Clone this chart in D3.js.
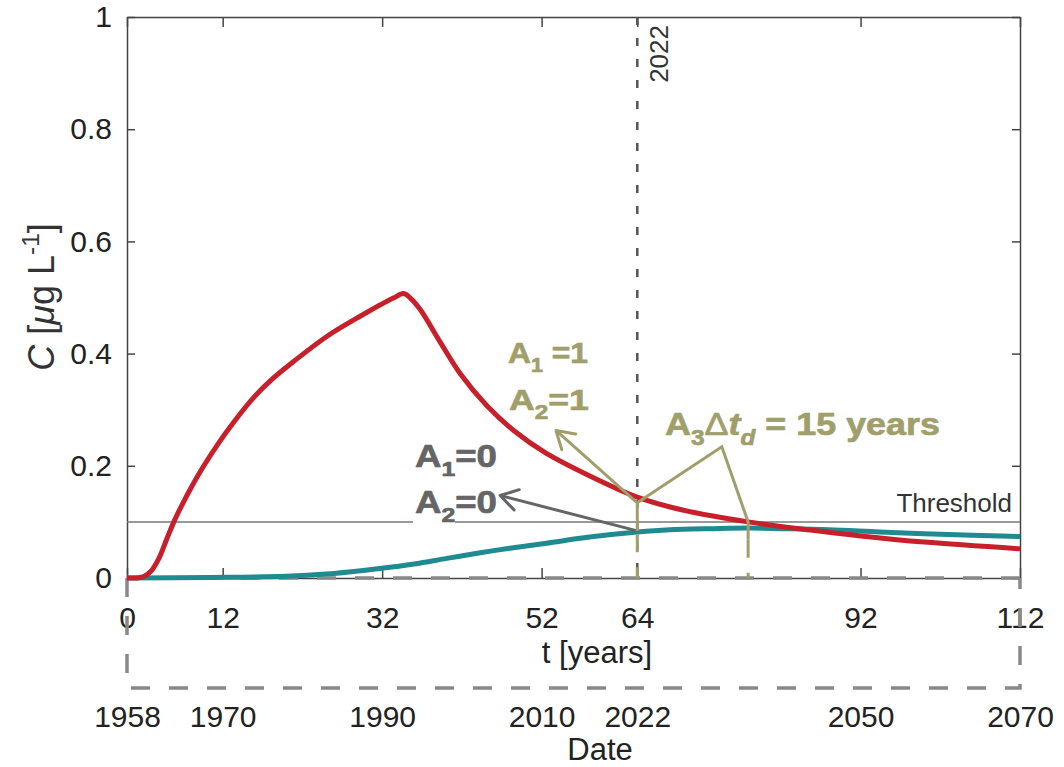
<!DOCTYPE html>
<html>
<head>
<meta charset="utf-8">
<script src="https://cdn.jsdelivr.net/npm/d3@7"></script>
<style>
  body { margin: 0; background: #fff; }
  svg { display: block; font-family: "Liberation Sans", Arial, Helvetica, sans-serif; }
</style>
</head>
<body>
<svg id="chart" width="1064" height="767"></svg>
<script>
// Concentration C [µg/L] versus time since 1958 (t, years)
// Scenario A1=1, A2=1 (red)
const tRed = [0, 1, 2, 3, 4, 5, 6, 7, 8, 9.5, 11.7, 13.5, 15.9, 18, 20.9, 25.1, 29.3, 33.4, 34.7,
              35.6, 36.8, 39.3, 41.8, 45.2, 48.5, 52.5, 58.9, 64, 69.4, 77.9, 86, 92, 100, 112];
const cRed = [0, 0, 0.002, 0.012, 0.035, 0.070, 0.104, 0.133, 0.160, 0.197, 0.245, 0.280, 0.322, 0.352, 0.386, 0.431, 0.467, 0.499, 0.507,
              0.498, 0.478, 0.420, 0.364, 0.306, 0.263, 0.223, 0.176, 0.144, 0.122, 0.100, 0.085, 0.075, 0.064, 0.052];
// Scenario A1=0, A2=0 (teal)
const tTeal = [0, 10, 20, 25, 31.7, 36, 40.1, 44.3, 48, 52.6, 58, 64, 68, 73.5, 78, 82, 88, 94.4, 100, 106, 112];
const cTeal = [0, 0.001, 0.003, 0.007, 0.017, 0.025, 0.035, 0.045, 0.053, 0.062, 0.073, 0.082, 0.086, 0.088, 0.089, 0.088, 0.086, 0.082, 0.079, 0.076, 0.074];

const tTicks = [0, 12, 32, 52, 64, 92, 112];
const yearTicks = [1958, 1970, 1990, 2010, 2022, 2050, 2070];
const cTicks = [0, 0.2, 0.4, 0.6, 0.8, 1];
const threshold = 0.1;
const startYear = 1958;
const presentT = 64;     // 2022
const crossingT = 77.9;  // red curve falls below the threshold

const svg = d3.select("#chart");
const x = d3.scaleLinear().domain([0, 112]).range([127, 1020]);
const y = d3.scaleLinear().domain([0, 1]).range([578, 17]);

const axisColor = "#444";
const textColor = "#222";
const olive = "#a09f6b";
const grayNote = "#656565";

// ---------- frame and ticks ----------
function styleAxis(g) {
  g.selectAll("path.domain").attr("stroke", axisColor).attr("stroke-width", 1.5);
  g.selectAll(".tick line").attr("stroke", axisColor).attr("stroke-width", 1.5);
  g.selectAll(".tick text").attr("fill", textColor).attr("font-size", 30)
    .attr("font-family", '"Liberation Sans", Arial, sans-serif');
}
svg.append("g").attr("transform", `translate(0,${y(0)})`)
  .call(d3.axisBottom(x).tickValues(tTicks).tickSize(-10).tickSizeOuter(0).tickPadding(29).tickFormat(d3.format("d")))
  .call(styleAxis);
svg.append("g").attr("transform", `translate(0,${y(1)})`)
  .call(d3.axisTop(x).tickValues(tTicks).tickSize(-10).tickSizeOuter(0).tickFormat(""))
  .call(styleAxis);
svg.append("g").attr("transform", `translate(${x(0)},0)`)
  .call(d3.axisLeft(y).tickValues(cTicks).tickSize(-8).tickSizeOuter(0).tickPadding(15)
    .tickFormat(d => d === 0 || d === 1 ? String(d) : d3.format(".1f")(d)))
  .call(styleAxis);
svg.append("g").attr("transform", `translate(${x(112)},0)`)
  .call(d3.axisRight(y).tickValues(cTicks).tickSize(-8).tickSizeOuter(0).tickFormat(""))
  .call(styleAxis);

// date axis below the dashed bracket
const dateAxis = svg.append("g").attr("transform", "translate(0,688)")
  .call(d3.axisBottom(x).tickValues(yearTicks.map(yr => yr - startYear)).tickSize(0).tickPadding(18)
    .tickFormat(d => String(d + startYear)))
  .call(styleAxis);
dateAxis.select("path.domain").remove();

// dashed bracket linking time axis and date axis
const bracket = d3.path();
bracket.moveTo(x(0), y(0)); bracket.lineTo(x(112), y(0));
bracket.moveTo(x(0), y(0)); bracket.lineTo(x(0), 688); bracket.lineTo(x(112), 688); bracket.lineTo(x(112), y(0));
svg.append("path").attr("d", bracket.toString()).attr("fill", "none")
  .attr("stroke", "#888").attr("stroke-width", 3.5).attr("stroke-dasharray", "19,19");

// axis titles
svg.append("text").attr("x", 597).attr("y", 663).attr("text-anchor", "middle")
  .attr("font-size", 31).attr("fill", textColor).text("t [years]");
svg.append("text").attr("x", 600).attr("y", 760).attr("text-anchor", "middle")
  .attr("font-size", 31).attr("fill", textColor).text("Date");

function rich(text, parts, fs) {
  let cur = 0;
  parts.forEach(p => {
    const off = (p.sub ? 0.3 : p.sup ? -0.42 : 0) * fs;
    const ts = text.append("tspan").attr("dy", off - cur).text(p.t);
    cur = off;
    if (p.sub || p.sup) ts.attr("font-size", fs * 0.68);
    if (p.it) ts.attr("font-style", "italic");
    if (p.w) ts.attr("font-weight", p.w);
  });
  return text;
}

const yTitle = svg.append("text").attr("transform", "translate(54,297) rotate(-90)")
  .attr("text-anchor", "middle").attr("font-size", 36).attr("fill", "#333");
rich(yTitle, [{t: "C", it: true}, {t: " ["}, {t: "\u03bc", it: true}, {t: "g L"}, {t: "-1", sup: true}, {t: "]"}], 36);

// ---------- reference lines ----------
svg.append("line").attr("x1", x(0)).attr("x2", x(112)).attr("y1", y(threshold)).attr("y2", y(threshold))
  .attr("stroke", "#777").attr("stroke-width", 1.5);
svg.append("rect").attr("x", 413).attr("y", y(threshold) - 3).attr("width", 42).attr("height", 6).attr("fill", "#fff");
svg.append("text").attr("x", 1012).attr("y", 512).attr("text-anchor", "end")
  .attr("font-size", 26).attr("fill", "#333").text("Threshold");

svg.append("line").attr("x1", x(presentT)).attr("x2", x(presentT)).attr("y1", y(1)).attr("y2", y(0))
  .attr("stroke", "#555").attr("stroke-width", 2.5).attr("stroke-dasharray", "8,13");
svg.append("text").attr("transform", `translate(${x(presentT) + 31},25) rotate(-90)`)
  .attr("text-anchor", "end").attr("font-size", 26).attr("fill", "#333").text(String(startYear + presentT));

// ---------- curves ----------
const line = d3.line().x(d => x(d[0])).y(d => y(d[1])).curve(d3.curveCatmullRom.alpha(0.5));
svg.append("path").datum(d3.zip(tTeal, cTeal)).attr("d", line).attr("fill", "none")
  .attr("stroke", "#1f8b90").attr("stroke-width", 5).attr("stroke-linejoin", "round");
svg.append("path").datum(d3.zip(tRed, cRed)).attr("d", line).attr("fill", "none")
  .attr("stroke", "#c8202b").attr("stroke-width", 5).attr("stroke-linejoin", "round");

// ---------- annotations ----------
function arrowHead(tip, from, len, color) {
  const a = Math.atan2(from[1] - tip[1], from[0] - tip[0]);
  const p = d3.path();
  [-0.55, 0.55].forEach(da => {
    p.moveTo(tip[0] + len * Math.cos(a + da), tip[1] + len * Math.sin(a + da));
    p.lineTo(tip[0], tip[1]);
  });
  svg.append("path").attr("d", p.toString()).attr("fill", "none").attr("stroke", color)
    .attr("stroke-width", 3).attr("stroke-linecap", "round");
}
const P = (t, c) => [x(t), y(c)];

// present-day and threshold-crossing markers down to the axis
[[presentT, 0.078], [crossingT, 0.068]].forEach(([t, c]) => {
  svg.append("line").attr("x1", x(t)).attr("x2", x(t)).attr("y1", y(c)).attr("y2", y(0))
    .attr("stroke", olive).attr("stroke-width", 3).attr("stroke-dasharray", "18,15");
});

// gray arrow to the A=0 label
const gTail = P(presentT, 0.084), gTip = P(46.8, 0.147);
svg.append("line").attr("x1", gTail[0]).attr("y1", gTail[1]).attr("x2", gTip[0]).attr("y2", gTip[1])
  .attr("stroke", grayNote).attr("stroke-width", 3);
arrowHead(gTip, gTail, 20, grayNote);

// olive arrow and delay bracket
const oBase = P(presentT, 0.084), oJoin = P(presentT, 0.134), oTip = P(53.8, 0.263);
const oApex = P(74.6, 0.234), oCross = P(crossingT, threshold), oFoot = P(crossingT, 0.068);
svg.append("path").attr("d", d3.line()([oBase, oJoin, oTip])).attr("fill", "none")
  .attr("stroke", olive).attr("stroke-width", 3).attr("stroke-linejoin", "miter");
arrowHead(oTip, oJoin, 20, olive);
svg.append("path").attr("d", d3.line()([oJoin, oApex, oCross, oFoot])).attr("fill", "none")
  .attr("stroke", olive).attr("stroke-width", 3).attr("stroke-linejoin", "miter");

// bold labels, stretched horizontally to their boxes
function note(x0, y0, width, parts, fs, color) {
  const t = svg.append("text").attr("font-size", fs).attr("font-weight", "bold").attr("fill", color)
    .attr("stroke", color).attr("stroke-width", 0.7).attr("stroke-linejoin", "round");
  rich(t, parts, fs);
  const w = t.node().getBBox().width;
  t.attr("transform", `translate(${x0},${y0}) scale(${width / w},1)`);
}
note(415, 467, 82, [{t: "A"}, {t: "1", sub: true}, {t: "=0"}], 31, grayNote);
note(415, 513, 82, [{t: "A"}, {t: "2", sub: true}, {t: "=0"}], 31, grayNote);
note(508, 363, 80, [{t: "A"}, {t: "1", sub: true}, {t: " =1"}], 29, olive);
note(509, 410, 80, [{t: "A"}, {t: "2", sub: true}, {t: "=1"}], 29, olive);
note(665, 435, 275, [{t: "A"}, {t: "3", sub: true}, {t: "\u0394", w: "normal"}, {t: "t", it: true},
  {t: "d", sub: true, it: true}, {t: " = 15 years"}], 32, olive);
</script>
</body>
</html>
